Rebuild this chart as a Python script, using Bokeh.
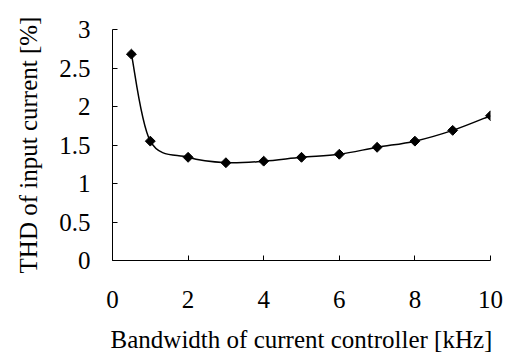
import numpy as np
from bokeh.plotting import figure
from bokeh.models import Range1d, FixedTicker
from bokeh.embed import file_html
from bokeh.resources import INLINE

# Data
bandwidth_khz = [0.5, 1, 2, 3, 4, 5, 6, 7, 8, 9, 10]
thd_percent = [2.68, 1.55, 1.34, 1.27, 1.29, 1.34, 1.38, 1.47, 1.55, 1.69, 1.88]
x_ticks = [0, 2, 4, 6, 8, 10]
y_ticks = [0, 0.5, 1, 1.5, 2, 2.5, 3]

FONT = "Liberation Serif"

p = figure(width=513, height=356, output_backend="svg", toolbar_location=None,
           x_range=Range1d(0, 10), y_range=Range1d(0, 3),
           min_border_left=112, min_border_right=23, min_border_top=29, min_border_bottom=96)
p.outline_line_color = None
p.grid.grid_line_color = None
p.background_fill_color = "white"
p.border_fill_color = "white"

# Smooth curve (Excel-like Catmull-Rom Bezier through data points)
x = np.array(bandwidth_khz, dtype=float)
y = np.array(thd_percent, dtype=float)
n = len(x)
x0, y0, x1, y1, cx0, cy0, cx1, cy1 = [], [], [], [], [], [], [], []
for i in range(n - 1):
    pm = (x[i - 1], y[i - 1]) if i > 0 else (x[i], y[i])
    pp = (x[i + 2], y[i + 2]) if i + 2 < n else (x[i + 1], y[i + 1])
    x0.append(x[i]); y0.append(y[i]); x1.append(x[i + 1]); y1.append(y[i + 1])
    cx0.append(x[i] + (x[i + 1] - pm[0]) / 6); cy0.append(y[i] + (y[i + 1] - pm[1]) / 6)
    cx1.append(x[i + 1] - (pp[0] - x[i]) / 6); cy1.append(y[i + 1] - (pp[1] - y[i]) / 6)
p.bezier(x0=x0, y0=y0, x1=x1, y1=y1, cx0=cx0, cy0=cy0, cx1=cx1, cy1=cy1,
         line_color="black", line_width=1.5)

p.scatter(bandwidth_khz, thd_percent, marker="square", size=7, angle=np.pi / 4,
          fill_color="black", line_color="black")

for ax in (p.xaxis[0], p.yaxis[0]):
    ax.axis_line_color = "black"
    ax.axis_line_width = 1
    ax.major_tick_in = 5
    ax.major_tick_out = 0
    ax.minor_tick_line_color = None
    ax.major_tick_line_color = "black"
    ax.major_label_text_font = FONT
    ax.major_label_text_font_size = "25px"
    ax.major_label_text_color = "black"
    ax.axis_label_text_font = FONT
    ax.axis_label_text_font_size = "25px"
    ax.axis_label_text_font_style = "normal"
    ax.axis_label_text_color = "black"

p.xaxis.ticker = FixedTicker(ticks=x_ticks)
p.yaxis.ticker = FixedTicker(ticks=y_ticks)
p.xaxis.major_label_overrides = {0: "0", 2: "2", 4: "4", 6: "6", 8: "8", 10: "10"}
p.yaxis.major_label_overrides = {0: "0", 0.5: "0.5", 1: "1", 1.5: "1.5", 2: "2", 2.5: "2.5", 3: "3"}
p.xaxis.axis_label = "Bandwidth of current controller [kHz]"
p.yaxis.axis_label = "THD of input current [%]"
p.xaxis.major_label_standoff = 30
p.yaxis.major_label_standoff = 22
p.xaxis.axis_label_standoff = 15
p.yaxis.axis_label_standoff = 14

open("out.html", "w").write(file_html(p, INLINE))
